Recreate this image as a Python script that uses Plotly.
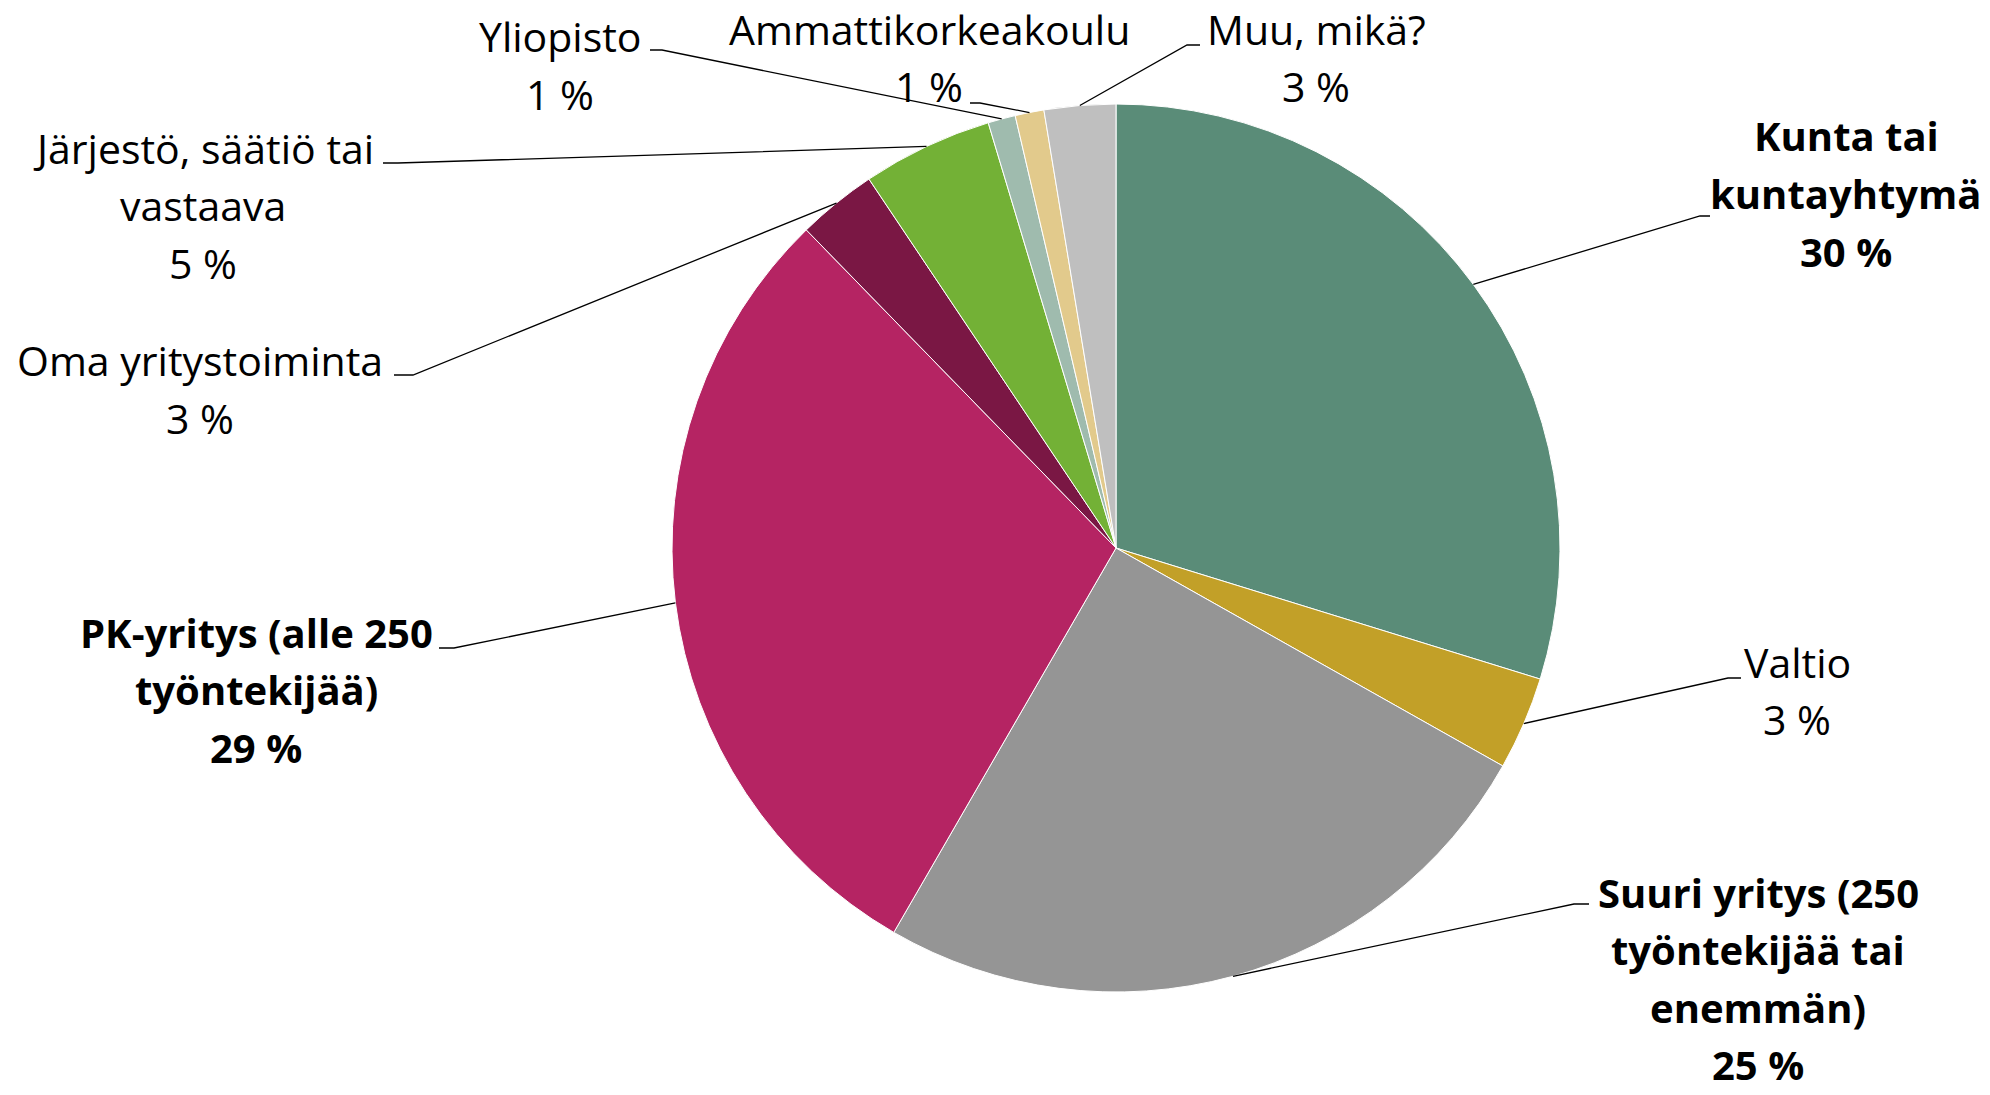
import math
import plotly.graph_objects as go

# Data (clockwise from 12 o'clock)
categories = [
    "Kunta tai\nkuntayhtymä",
    "Valtio",
    "Suuri yritys (250\ntyöntekijää tai\nenemmän)",
    "PK-yritys (alle 250\ntyöntekijää)",
    "Oma yritystoiminta",
    "Järjestö, säätiö tai\nvastaava",
    "Yliopisto",
    "Ammattikorkeakoulu",
    "Muu, mikä?",
]
values = [29.8, 3.4, 25.2, 29.4, 2.9, 4.75, 1.0, 1.05, 2.6]
bold = [True, False, True, True, False, False, False, False, False]
colors = ["#5A8C78", "#C2A028", "#959595", "#B52463", "#7A1744",
          "#73B136", "#9FBBAE", "#E2CA8C", "#BFBFBF"]

# Layout (pixels, figure 1990 x 1095)
W, H = 1990, 1095
CX, CY, R = 1116, 548, 444
label_xy = [(1846, 136), (1797, 662), (1758, 892), (256, 632), (200, 360),
            (203, 148), (560, 36), (929, 29), (1316, 29)]
elbow = [(1700, 216), (1728, 678), (1574, 904), (454, 648), (413, 375),
         (398, 163), (662, 50), (980, 103), (1187, 45)]
stub_end = [(1710, 216), (1741, 678), (1589, 904), (439, 648), (394, 375),
            (383, 163), (650, 50), (970, 103), (1200, 45)]
LINE_GAP = 57.5
FONT = "Open Sans, Lato, sans-serif"


def px(x, y):
    return x / W, 1 - y / H


fig = go.Figure(go.Pie(
    labels=[c.replace("\n", " ") for c in categories],
    values=values,
    sort=False,
    direction="clockwise",
    rotation=0,
    textinfo="none",
    hoverinfo="label+percent",
    marker=dict(colors=colors, line=dict(color="white", width=1)),
    domain=dict(x=[(CX - R) / W, (CX + R) / W],
                y=[(H - CY - R) / H, (H - CY + R) / H]),
    showlegend=False,
))

total = sum(values)
cum = 0
annotations = []
shapes = []
for i, v in enumerate(values):
    mid = (cum + v / 2) / total * 2 * math.pi
    cum += v
    sx, sy = CX + R * math.sin(mid), CY - R * math.cos(mid)

    # leader line: slice edge -> elbow -> short horizontal stub
    p0, p1, p2 = px(sx, sy), px(*elbow[i]), px(*stub_end[i])
    shapes.append(dict(
        type="path", xref="paper", yref="paper",
        path=f"M {p0[0]},{p0[1]} L {p1[0]},{p1[1]} L {p2[0]},{p2[1]}",
        line=dict(color="black", width=1.3),
    ))

    lines = categories[i].split("\n") + [f"{round(v / total * 100):.0f} %"]
    lx, ly = label_xy[i]
    for j, t in enumerate(lines):
        ax, ay = px(lx, ly + j * LINE_GAP)
        annotations.append(dict(
            x=ax, y=ay, xref="paper", yref="paper",
            text=f"<b>{t}</b>" if bold[i] else t,
            showarrow=False, xanchor="center", yanchor="middle",
            font=dict(family=FONT, size=40 if bold[i] else 41, color="black"),
        ))

fig.update_layout(
    width=W, height=H,
    margin=dict(l=0, r=0, t=0, b=0),
    paper_bgcolor="white",
    plot_bgcolor="white",
    shapes=shapes,
    annotations=annotations,
)

# drop the default page margin so the figure fills the window exactly
fig.write_html("out.html", config={"displayModeBar": False},
               post_script="document.body.style.margin = '0';")
